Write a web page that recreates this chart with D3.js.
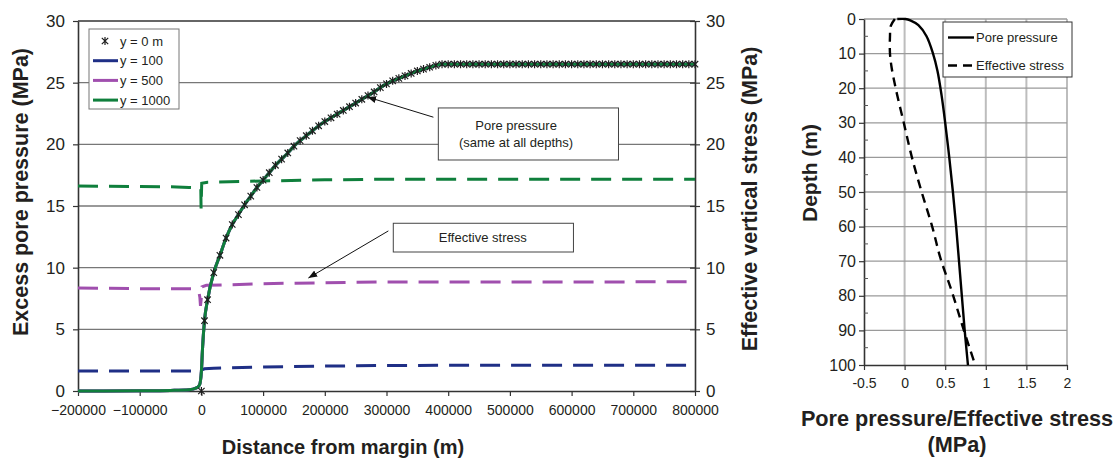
<!DOCTYPE html>
<html>
<head>
<meta charset="utf-8">
<script src="https://cdn.jsdelivr.net/npm/d3@7"></script>
<style>
  body { margin: 0; background: #fff; }
  svg { font-family: Arial, "Liberation Sans", sans-serif; }
</style>
</head>
<body>
<svg id="chart" width="1120" height="458"></svg>
<script>
// ---------- data: margin section ----------
const distTicks = [-200000, -100000, 0, 100000, 200000, 300000, 400000, 500000, 600000, 700000, 800000];
const stressTicks = [0, 5, 10, 15, 20, 25, 30];

// pore pressure, y = 0 m (marked every 10 km)
const poreDist = [0, 5000, 10000, 20000, 30000, 40000, 50000, 60000, 70000, 80000, 90000,
  100000, 110000, 120000, 130000, 140000, 150000, 160000, 170000, 180000, 190000,
  200000, 210000, 220000, 230000, 240000, 250000, 260000, 270000, 280000, 290000,
  300000, 310000, 320000, 330000, 340000, 350000, 360000, 370000, 380000, 390000,
  400000, 410000, 420000, 430000, 440000, 450000, 460000, 470000, 480000, 490000,
  500000, 510000, 520000, 530000, 540000, 550000, 560000, 570000, 580000, 590000,
  600000, 610000, 620000, 630000, 640000, 650000, 660000, 670000, 680000, 690000,
  700000, 710000, 720000, 730000, 740000, 750000, 760000, 770000, 780000, 790000, 800000];
const porePressure = [0, 5.7, 7.4, 9.6, 11.0, 12.4, 13.5, 14.3, 15.1, 15.8, 16.5,
  17.1, 17.7, 18.3, 18.8, 19.3, 19.85, 20.3, 20.7, 21.1, 21.5,
  21.85, 22.15, 22.45, 22.75, 23.05, 23.35, 23.65, 23.95, 24.25, 24.6,
  24.9, 25.15, 25.35, 25.55, 25.75, 25.95, 26.1, 26.25, 26.4, 26.5,
  26.5, 26.5, 26.5, 26.5, 26.5, 26.5, 26.5, 26.5, 26.5, 26.5,
  26.5, 26.5, 26.5, 26.5, 26.5, 26.5, 26.5, 26.5, 26.5, 26.5,
  26.5, 26.5, 26.5, 26.5, 26.5, 26.5, 26.5, 26.5, 26.5, 26.5,
  26.5, 26.5, 26.5, 26.5, 26.5, 26.5, 26.5, 26.5, 26.5, 26.5, 26.5];

// pore pressure at depth, landward of the margin (solid lines lead-in)
const leadDist = [-200000, -100000, -50000, -20000, -8000, -3000, 0, 2000];
const leadPressure = [0, 0.02, 0.05, 0.1, 0.25, 0.5, 1.6, 3.6];

// effective vertical stress (dashed), [distance, MPa]
const eff100 = [[-200000, 1.62], [-10000, 1.62], [-1000, 1.6], [1000, 1.72], [5000, 1.8],
  [20000, 1.85], [100000, 1.95], [200000, 2.02], [300000, 2.07], [400000, 2.08], [800000, 2.08]];
const eff500 = [[-200000, 8.35], [-100000, 8.3], [-11000, 8.3], [-4000, 8.0], [-2500, 7.6],
  [-1500, 6.9], [0, 7.6], [1000, 8.45], [8000, 8.57], [50000, 8.62], [100000, 8.7],
  [200000, 8.78], [300000, 8.84], [800000, 8.85]];
const eff1000 = [[-200000, 16.62], [-40000, 16.55], [-20000, 16.5], [-1000, 16.45],
  [-500, 14.8], [500, 16.85], [10000, 16.93], [100000, 17.03], [200000, 17.12],
  [300000, 17.17], [800000, 17.17]];

const seriesNames = ["y = 0 m", "y = 100", "y = 500", "y = 1000"];
const seriesColors = ["#222", "#1f2f86", "#a04fae", "#0f7f3c"];

// annotations in data units
const notes = [
  { lines: ["Pore pressure", "(same at all depths)"], box: [384000, 676000, 22.95, 18.73],
    textX: 510000, from: [376000, 22.2], to: [269000, 23.84] },
  { lines: ["Effective stress"], box: [311000, 603000, 13.6, 11.27],
    textX: 456000, from: [303000, 12.98], to: [173400, 9.16] }
];

// ---------- data: depth profile ----------
const depthTicks = [0, 10, 20, 30, 40, 50, 60, 70, 80, 90, 100];
const depthMinor = [5, 15, 25, 35, 45, 55, 65, 75, 85, 95];
const profileTicks = [-0.5, 0, 0.5, 1, 1.5, 2];

const poreDepth = [0, 0, 0.4, 1.8, 5, 10, 15, 22, 30, 40, 50, 60, 70, 80, 90, 100];
const poreProfile = [-0.09, 0.01, 0.07, 0.17, 0.27, 0.35, 0.405, 0.455, 0.5, 0.55, 0.595, 0.635, 0.67, 0.705, 0.74, 0.78];
const effDepth = [0, 2, 5, 10, 14, 20, 30, 40, 50, 60, 69, 79, 90, 100];
const effProfile = [-0.12, -0.17, -0.18, -0.18, -0.16, -0.11, -0.01, 0.09, 0.21, 0.34, 0.44, 0.585, 0.73, 0.87];

const textColor = "#231f20";
const svg = d3.select("#chart");

// ================= left chart =================
const xL = d3.scaleLinear().domain([-200000, 800000]).range([78, 695]);
const yL = d3.scaleLinear().domain([0, 30]).range([391, 21]);

const left = svg.append("g");

left.append("g")
  .selectAll("line")
  .data(stressTicks.filter((d) => d > 0))
  .enter()
  .append("line")
  .attr("x1", xL.range()[0])
  .attr("x2", xL.range()[1])
  .attr("y1", (d) => yL(d))
  .attr("y2", (d) => yL(d))
  .attr("stroke", (d) => (d === 30 ? "#333" : "#777"))
  .attr("stroke-width", 1.3);

const styleAxis = (g, size) => {
  g.select(".domain").attr("stroke", "#333").attr("stroke-width", 1.6);
  g.selectAll(".tick line").attr("stroke", "#333").attr("stroke-width", 1.2);
  g.selectAll("text").attr("fill", textColor).style("font-size", size + "px");
};

left.append("g")
  .attr("transform", `translate(0,${yL(0)})`)
  .call(d3.axisBottom(xL).tickValues(distTicks).tickSize(5).tickSizeOuter(0).tickPadding(9).tickFormat(d3.format("d")))
  .call((g) => styleAxis(g, 14));

left.append("g")
  .attr("transform", `translate(${xL(-200000)},0)`)
  .call(d3.axisLeft(yL).tickValues(stressTicks).tickSize(5).tickSizeOuter(0).tickPadding(8))
  .call((g) => styleAxis(g, 17));

left.append("g")
  .attr("transform", `translate(${xL(800000)},0)`)
  .call(d3.axisRight(yL).tickValues(stressTicks).tickSize(5).tickSizeOuter(0).tickPadding(6))
  .call((g) => styleAxis(g, 17))
  .call((g) => g.selectAll(".tick line").attr("x1", -5));

// dashed effective stress
const effLine = d3.line().x((d) => xL(d[0])).y((d) => yL(d[1]));
[[eff100, seriesColors[1]], [eff500, seriesColors[2]], [eff1000, seriesColors[3]]].forEach(([data, color]) => {
  left.append("path")
    .attr("d", effLine(data))
    .attr("fill", "none")
    .attr("stroke", color)
    .attr("stroke-width", 3)
    .attr("stroke-dasharray", "20,11");
});

// solid pore pressure lines (identical at all depths)
const solidPts = leadDist.map((d, i) => [d, leadPressure[i]])
  .concat(poreDist.map((d, i) => [d, porePressure[i]]).filter((d) => d[0] >= 5000));
const poreLine = d3.line().x((d) => xL(d[0])).y((d) => yL(d[1])).curve(d3.curveMonotoneX);
[1, 2, 3].forEach((k) => {
  left.append("path")
    .attr("d", poreLine(solidPts))
    .attr("fill", "none")
    .attr("stroke", seriesColors[k])
    .attr("stroke-width", 3);
});

// y = 0 m markers
const star = "M-3.2,-3.2L3.2,3.2M-3.2,3.2L3.2,-3.2M0,-4L0,4";
left.append("g")
  .selectAll("path")
  .data(poreDist.map((d, i) => [d, porePressure[i]]))
  .enter()
  .append("path")
  .attr("transform", (d) => `translate(${xL(d[0])},${yL(d[1])})`)
  .attr("d", star)
  .attr("fill", "none")
  .attr("stroke", "#1e1e1e")
  .attr("stroke-width", 1.2);

// annotations
svg.append("defs").append("marker")
  .attr("id", "arrow")
  .attr("viewBox", "0 -4 10 8")
  .attr("refX", 10)
  .attr("refY", 0)
  .attr("markerWidth", 9)
  .attr("markerHeight", 7)
  .attr("markerUnits", "userSpaceOnUse")
  .attr("orient", "auto")
  .append("path")
  .attr("d", "M0,-4L10,0L0,4Z")
  .attr("fill", "#111");

notes.forEach((n) => {
  left.append("line")
    .attr("x1", xL(n.from[0])).attr("y1", yL(n.from[1]))
    .attr("x2", xL(n.to[0])).attr("y2", yL(n.to[1]))
    .attr("stroke", "#111")
    .attr("stroke-width", 1)
    .attr("marker-end", "url(#arrow)");
  left.append("rect")
    .attr("x", xL(n.box[0]))
    .attr("y", yL(n.box[2]))
    .attr("width", xL(n.box[1]) - xL(n.box[0]))
    .attr("height", yL(n.box[3]) - yL(n.box[2]))
    .attr("fill", "#fff")
    .attr("stroke", "#444")
    .attr("stroke-width", 1);
  const cy = (yL(n.box[2]) + yL(n.box[3])) / 2;
  n.lines.forEach((t, i) => {
    left.append("text")
      .attr("x", xL(n.textX))
      .attr("y", cy + (i - (n.lines.length - 1) / 2) * 17)
      .attr("dy", "0.35em")
      .attr("text-anchor", "middle")
      .attr("fill", textColor)
      .style("font-size", "13px")
      .text(t);
  });
});

// legend
const legend = left.append("g").attr("transform", "translate(89,29)");
legend.append("rect")
  .attr("width", 90).attr("height", 80)
  .attr("fill", "#fff").attr("stroke", "#777").attr("stroke-width", 1);
seriesNames.forEach((name, i) => {
  const yy = 12 + i * 19.7;
  if (i === 0) {
    legend.append("path")
      .attr("transform", `translate(16,${yy})`)
      .attr("d", star).attr("fill", "none").attr("stroke", "#1e1e1e").attr("stroke-width", 1.2);
  } else {
    legend.append("line")
      .attr("x1", 4).attr("x2", 29).attr("y1", yy).attr("y2", yy)
      .attr("stroke", seriesColors[i]).attr("stroke-width", 3);
  }
  legend.append("text")
    .attr("x", 31).attr("y", yy).attr("dy", "0.35em")
    .attr("fill", textColor).style("font-size", "13px")
    .text(name);
});

// titles
svg.append("text")
  .attr("transform", "translate(28,192) rotate(-90)")
  .attr("text-anchor", "middle")
  .attr("fill", textColor)
  .style("font-size", "21.5px").style("font-weight", "bold")
  .text("Excess pore pressure (MPa)");
svg.append("text")
  .attr("transform", "translate(757,199) rotate(-90)")
  .attr("text-anchor", "middle")
  .attr("fill", textColor)
  .style("font-size", "21.5px").style("font-weight", "bold")
  .text("Effective vertical stress (MPa)");
svg.append("text")
  .attr("x", 343).attr("y", 454)
  .attr("text-anchor", "middle")
  .attr("fill", textColor)
  .style("font-size", "20px").style("font-weight", "bold")
  .text("Distance from margin (m)");

// ================= right chart =================
const xR = d3.scaleLinear().domain([-0.5, 2]).range([864, 1067]);
const yR = d3.scaleLinear().domain([0, 100]).range([19, 365]);
const right = svg.append("g");

right.append("g")
  .selectAll("line")
  .data(profileTicks.filter((d) => d > -0.5))
  .enter()
  .append("line")
  .attr("x1", (d) => xR(d)).attr("x2", (d) => xR(d))
  .attr("y1", yR(0)).attr("y2", yR(100))
  .attr("stroke", "#bdbdbd").attr("stroke-width", 2);

right.append("g")
  .selectAll("line")
  .data(depthTicks.filter((d) => d < 100))
  .enter()
  .append("line")
  .attr("x1", xR(-0.5)).attr("x2", xR(2))
  .attr("y1", (d) => yR(d)).attr("y2", (d) => yR(d))
  .attr("stroke", "#9a9a9a").attr("stroke-width", 1.3);

right.append("g")
  .attr("transform", `translate(0,${yR(100)})`)
  .call(d3.axisBottom(xR).tickValues(profileTicks).tickSize(5).tickSizeOuter(0).tickPadding(8).tickFormat((d) => String(d)))
  .call((g) => styleAxis(g, 14));

right.append("g")
  .attr("transform", `translate(${xR(-0.5)},0)`)
  .call(d3.axisLeft(yR).tickValues(depthTicks).tickSize(5).tickSizeOuter(0).tickPadding(3))
  .call((g) => styleAxis(g, 16));

right.append("g")
  .selectAll("line")
  .data(depthMinor)
  .enter()
  .append("line")
  .attr("x1", xR(-0.5)).attr("x2", xR(-0.5) + 4)
  .attr("y1", (d) => yR(d)).attr("y2", (d) => yR(d))
  .attr("stroke", "#555").attr("stroke-width", 1);

const profLine = d3.line().x((d) => xR(d[0])).y((d) => yR(d[1])).curve(d3.curveCatmullRom.alpha(0.5));
right.append("path")
  .attr("d", profLine(poreDepth.map((d, i) => [poreProfile[i], d])))
  .attr("fill", "none").attr("stroke", "#000").attr("stroke-width", 2.4);
right.append("path")
  .attr("d", profLine(effDepth.map((d, i) => [effProfile[i], d])))
  .attr("fill", "none").attr("stroke", "#000").attr("stroke-width", 2.4)
  .attr("stroke-dasharray", "9,6");

const legR = right.append("g").attr("transform", "translate(943,22)");
legR.append("rect")
  .attr("width", 129).attr("height", 55)
  .attr("fill", "#fff").attr("stroke", "#333").attr("stroke-width", 1);
[["Pore pressure", null], ["Effective stress", "9,6"]].forEach(([name, dash], i) => {
  const yy = 15.5 + i * 28;
  legR.append("line")
    .attr("x1", 5).attr("x2", 31).attr("y1", yy).attr("y2", yy)
    .attr("stroke", "#000").attr("stroke-width", 2.4)
    .attr("stroke-dasharray", dash);
  legR.append("text")
    .attr("x", 33).attr("y", yy).attr("dy", "0.35em")
    .attr("fill", textColor).style("font-size", "13px")
    .text(name);
});

svg.append("text")
  .attr("transform", "translate(817,173) rotate(-90)")
  .attr("text-anchor", "middle")
  .attr("fill", textColor)
  .style("font-size", "21px").style("font-weight", "bold")
  .text("Depth (m)");
svg.append("text")
  .attr("x", 957).attr("y", 426)
  .attr("text-anchor", "middle")
  .attr("fill", textColor)
  .style("font-size", "21.7px").style("font-weight", "bold")
  .text("Pore pressure/Effective stress");
svg.append("text")
  .attr("x", 957).attr("y", 452)
  .attr("text-anchor", "middle")
  .attr("fill", textColor)
  .style("font-size", "21.7px").style("font-weight", "bold")
  .text("(MPa)");
</script>
</body>
</html>
